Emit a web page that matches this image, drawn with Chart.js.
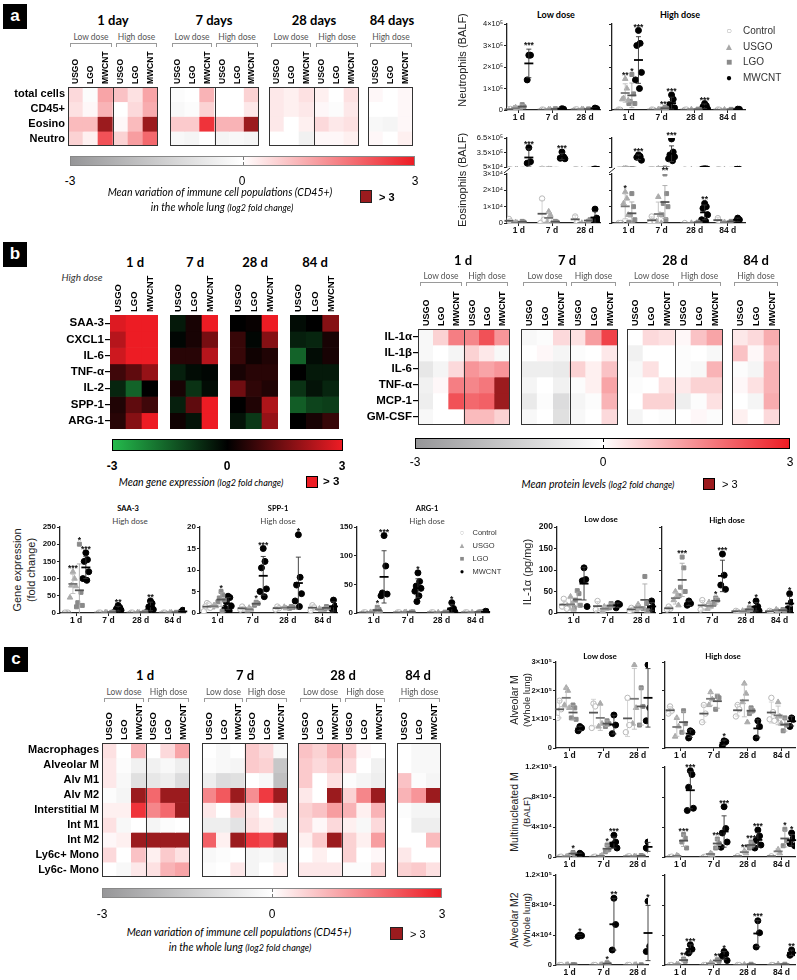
<!DOCTYPE html>
<html><head><meta charset="utf-8">
<script src="https://cdn.jsdelivr.net/npm/chart.js@4.4.1/dist/chart.umd.min.js"></script>
<style>
html,body{margin:0;padding:0;background:#fff;overflow:hidden}
#page{position:relative;width:797px;height:980px;overflow:hidden;font-family:"Liberation Sans",Arial,sans-serif;color:#000}
#page canvas{position:absolute}
.t{position:absolute;white-space:nowrap;line-height:1}
.d{position:absolute;box-sizing:border-box}
</style></head>
<body><div id="page"></div>
<script>
// ---------- heatmap data (log2 fold change, >3 stored as 3.5) ----------
const cols6 = ['USGO', 'LGO', 'MWCNT', 'USGO', 'LGO', 'MWCNT'];
const cols3 = ['USGO', 'LGO', 'MWCNT'];

const aRows = ['total cells', 'CD45+', 'Eosino', 'Neutro'];
const a1d  = [[0.5, -0.1, 1.2, 0.8, 0.4, 1.2], [0.4, 0.1, 1.0, 0, 0.5, 1.1], [0.9, 0.9, 3.5, 0.1, 0.9, 3.5], [0.6, 0.2, 2.3, 0.6, 1.3, 2.0]];
const a7d  = [[-0.1, 0, 1.0, 0, 0, 0.6], [-0.2, -0.1, 0.6, 0, 0, 0.3], [0.7, 0.7, 2.7, 1.0, 1.0, 3.5], [-0.2, -0.3, 0, -0.3, -0.2, -0.3]];
const a28d = [[0.3, 0.2, 0.4, 0.2, 0, 0.4], [0.3, 0.2, 0.3, 0.1, -0.1, 0.3], [0.3, 0, 0.2, 0.5, 0.3, 0.4], [0, 0, -0.4, 0.1, 0.1, 0.2]];
const a84d = [[0.1, 0, 0.1], [0, 0, 0.1], [-0.2, -0.3, 0.1], [0.1, 0, 0.2]];

const gRows = ['SAA-3', 'CXCL1', 'IL-6', 'TNF-α', 'IL-2', 'SPP-1', 'ARG-1'];
const g1d  = [[2.8, 3.5, 3.5], [2.3, 3.5, 3.5], [2.6, 3.5, 3.5], [0.8, 1.2, 1.9], [-0.6, -1.6, 0], [0.4, 1.2, 0.8], [0.5, 1.7, 3.5]];
const g7d  = [[-0.4, 0.3, 3.5], [-0.1, 0.3, 1.5], [0.5, 0.5, 2.3], [-0.5, -0.2, -0.1], [0.3, -0.8, -0.2], [-0.5, 1.2, 3.5], [0.2, -0.3, 3.5]];
const g28d = [[0, 0.1, 3.5], [0.7, -0.1, 1.7], [0.7, 0.2, 0.4], [0.3, 0.5, 0.5], [1.4, 0.6, 0.4], [0, 0.4, 2.2], [-0.3, -0.9, 1.9]];
const g84d = [[-0.2, 0, 1.7], [-0.5, -0.6, 0.3], [-1.6, -0.2, 0.3], [0, -0.4, -0.4], [-0.8, -0.3, -0.6], [-1.5, -1.1, -1.0], [0, 0.3, 0.7]];

const pRows = ['IL-1α', 'IL-1β', 'IL-6', 'TNF-α', 'MCP-1', 'GM-CSF'];
const p1d  = [[-0.2, 0.6, 1.7, 1.6, 2.3, 1.4], [-0.2, 0, -0.3, 0.6, 0.3, -0.2], [-0.7, -0.3, 0.5, 1.4, 1.2, 1.4], [-0.4, 0.1, 1.7, 1.6, 1.8, 3.5], [-0.5, 0, 2.3, 2.0, 2.1, 3.5], [-0.2, 0, 0, 0.9, 0.9, 0.6]];
const p7d  = [[-0.2, -0.1, 0.5, 0.4, 1.3, 2.5], [0, 0.1, -0.3, -0.1, 0, 0.3], [-0.5, -0.5, -0.6, 0.6, 0.2, 0.8], [-0.3, 0, -0.4, -0.1, 0.2, 1.2], [-0.6, -0.1, -1.0, -0.3, -0.1, 1.0], [-0.2, 0, -0.9, -0.2, 0, 0.5]];
const p28d = [[0, 0.5, 0.4, 0.1, 0.8, 1.2], [-0.4, 0, 0, -0.1, 0, -0.2], [-0.2, 0.4, 0, -0.1, -0.2, 1.0], [-0.1, 0, 0.4, 0.3, 0.6, 0.6], [0, 0.6, 0.6, -0.5, -0.1, 0.4], [-0.3, 0, -0.1, 0, 0.1, -0.1]];
const p84d = [[0.3, 0.5, 1.1], [0.8, 0.1, 0.8], [-0.1, -0.3, 1.0], [0.1, 0.4, 1.0], [0, -0.3, 1.1], [0.2, 0, 0.5]];

const cRows = ['Macrophages', 'Alveolar M', 'Alv M1', 'Alv M2', 'Interstitial M', 'Int M1', 'Int M2', 'Ly6c+ Mono', 'Ly6c- Mono'];
const c1d  = [[0.4, 0, 1.0, 0, 0.5, 1.2], [0.3, -0.1, -0.4, -0.4, -0.2, -0.5], [0.3, -0.2, -0.9, -0.7, -0.5, -1.0], [-0.1, -0.3, 3.5, 2.0, 3.5, 3.5], [0.2, 0.2, 2.7, 1.6, 2.0, 3.5], [0.4, -0.2, 0, -0.3, -0.1, 0], [0.1, 0.2, 3.5, 3.5, 3.5, 3.5], [0.5, 0, 0.8, 0.2, 0.7, 0.4], [0, -0.2, 0.3, 0.4, 1.0, 1.2]];
const c7d  = [[0, -0.2, 0, 0.7, 0.5, -0.2], [-0.1, -0.2, -0.3, 0.7, 0.6, -1.6], [-0.5, -1.0, -0.9, 0, -0.2, -1.8], [1.6, 2.2, 3.5, 1.5, 2.6, 3.5], [0.3, 0, 0.6, 0.3, 0, 0.4], [-0.5, -0.5, -0.8, 0.4, 0.2, -0.4], [2.1, 0.2, 3.5, 2.6, 2.4, 3.5], [-0.2, -0.1, 0, -0.3, -0.2, -0.4], [-0.1, 0, 0.3, -0.3, 0, 0.2]];
const c28d = [[0.8, 0.6, 1.0, 0.7, 0.1, 0], [0.7, 0.5, 0.7, 0.5, 0, -0.4], [0.7, 0, 0.4, -0.1, -0.3, -0.5], [0.3, 0, 3.5, 0.6, 1.6, 3.5], [0.6, 0.8, 1.3, 1.0, 0.2, 1.0], [0.5, 0.1, 0.5, 0.2, -0.2, 0.5], [0.2, 0.7, 3.5, 0.6, 0.2, 1.3], [0, 0.2, 0, 0.6, 0, 0.1], [0.3, 0.3, 0.3, -0.1, -0.1, 0.6]];
const c84d = [[0, -0.2, -0.2], [0, -0.2, -0.2], [0.8, -0.1, -0.3], [1.0, 1.4, 3.5], [-0.1, -0.3, -0.3], [0, -0.5, -0.5], [0, 0, 0.9], [0.3, 0, 0], [0.6, 0.7, 0.4]];

// ---------- dot plot data: per series, one list per time point ----------
const days3 = ['1 d', '7 d', '28 d'];
const days4 = ['1 d', '7 d', '28 d', '84 d'];

const neuLowCtrl = [[3e3, 5e3, 2e3], [2e3, 1e3], [2e3, 3e3]];
const neuLowUsgo = [[1.2e4, 5e3, 8e3], [3e3, 2e3], [4e3, 2e3]];
const neuLowLgo  = [[2.5e4, 1.5e4, 8e3], [6e3, 3e3], [5e3, 3e3]];
const neuLowMw   = [[2.55e5, 2.55e5, 1.4e5], [6e3, 4e3], [9e3, 6e3]];
const neuLowStars = [['', '', '', '***'], ['', '', '', ''], ['', '', '', '']];
const neuHighCtrl = [[2e3, 1e3], [2e3, 1e3], [1e3, 2e3], [2e3, 1e3]];
const neuHighUsgo = [[1.45e5, 1.0e5, 0.55e5, 0.45e5, 0.5e5], [3e3, 2e3], [3e3], [2e3]];
const neuHighLgo  = [[1.65e5, 0.75e5, 0.4e5, 0.3e5, 0.3e5], [1.2e4, 8e3, 5e3], [4e3, 2e3], [3e3]];
const neuHighMw   = [[3.7e5, 3.1e5, 3.0e5, 1.75e5, 1.4e5, 1.0e5], [0.7e5, 0.5e5, 0.25e5, 0.1e5, 0.05e5], [0.3e5, 0.2e5, 0.15e5, 0.05e5], [4e3, 3e3]];
const neuHighStars = [['', '**', '*', '***'], ['', '', '***', '***'], ['', '', '', '***'], ['', '', '', '']];

const eosLowCtrl = [[2.5e3, 1e3, 500], [1.5e4, 2e3, 0], [4e3, 500]];
const eosLowUsgo = [[500, 0], [7e3, 5e3, 500, 0], [0]];
const eosLowLgo  = [[1e3, 500], [1e3, 500], [1e3, 2e3]];
const eosLowMw   = [[4.5e5, 1.6e5, 1.3e5], [3.6e5, 2.6e5, 2.3e5, 2.2e5], [8.5e3, 3e3, 1.5e3, 500]];
const eosLowStars = [['', '', '', '***'], ['', '', '', '***'], ['', '', '', '']];
const eosHighCtrl = [[0, 0], [4e3, 1e3, 0], [0], [3e3, 500]];
const eosHighUsgo = [[1.9e4, 1.5e4, 1.2e4, 5e3, 0], [1.6e4, 5e3, 1e3, 0], [0], [500]];
const eosHighLgo  = [[1.8e4, 1e4, 5e3, 2e3, 500, 0], [3e4, 1.8e4, 1.2e4, 1e4, 5e3, 2e3], [500], [1e3]];
const eosHighMw   = [[3.0e5, 2.7e5, 2.5e5, 1.9e5], [6.3e5, 3.6e5, 3.0e5, 2.6e5, 2.2e5, 1.8e5], [1.2e4, 1e4, 9e3, 5e3, 2e3, 1e3], [3e3, 2e3, 1e3]];
const eosHighStars = [['', '*', '', '***'], ['', '', '**', '***'], ['', '', '', '**'], ['', '', '', '']];

const saaCtrl = [[1, 1, 1], [1, 1], [1, 1], [1, 1]];
const saaUsgo = [[120, 100, 80, 78, 45], [1.5, 1], [1.5, 1], [1, 1.2]];
const saaLgo  = [[200, 60, 30, 22, 18], [2, 3], [2, 2.5], [2, 1.5]];
const saaMw   = [[175, 155, 150, 120, 100, 95], [22, 16, 12, 8, 5], [35, 28, 18, 10, 5], [8, 5, 3, 2]];
const saaStars = [['', '***', '*', '***'], ['', '', '', '**'], ['', '', '', '**'], ['', '', '', '']];

const sppCtrl = [[2.3, 2.0, 1.5, 1.2, 0.4], [1.5, 1.0, 0.8], [1.5, 1.1, 0.8], [1.8, 1.3, 0.6]];
const sppUsgo = [[1.8, 1.6, 1.3], [1.2, 0.8, 0.6], [1.4, 1.1], [1.0, 0.7]];
const sppLgo  = [[5, 4.2, 3.5, 3, 2.6, 0.4], [2.5, 2.2, 1.8], [1.5, 1.3, 1.1], [1.5, 1.2, 0.9]];
const sppMw   = [[3.9, 3.6, 2.6, 1.6, 1.1, 0.5], [15, 12, 10.5, 5.6, 5, 3.8], [18.2, 8.3, 6.5, 4.5, 2.8, 1.5], [3, 1.6, 1, 0.5]];
const sppStars = [['', '', '*', ''], ['', '', '*', '***'], ['', '', '', '*'], ['', '', '', '']];

const argCtrl = [[1, 1], [1, 1], [1, 1], [1, 1]];
const argUsgo = [[1.5, 1], [1, 1.5], [1], [1]];
const argLgo  = [[10, 6, 3, 1], [1.5, 2], [1.5, 1], [1.5, 2]];
const argMw   = [[135, 82, 35, 33, 30], [70, 55, 47, 43, 38, 30, 20], [18, 8, 4, 2], [3, 2, 1]];
const argStars = [['', '', '*', '***'], ['', '', '', '*'], ['', '', '', '*'], ['', '', '', '']];

const ilLowCtrl = [[33, 20, 15, 10], [28, 12, 8], [12, 8, 5]];
const ilLowUsgo = [[38, 22, 12, 8], [15, 10, 5], [20, 12, 8]];
const ilLowLgo  = [[52, 45, 30, 18, 12], [22, 18, 12], [85, 22, 10, 5]];
const ilLowMw   = [[105, 78, 75, 15], [22, 20, 12], [28, 15, 10, 8]];
const ilLowStars = [['', '', '', ''], ['', '', '', ''], ['', '', '', '']];
const ilHighCtrl = [[15, 10, 8], [30, 15, 8], [5, 3], [5, 3]];
const ilHighUsgo = [[50, 40, 30, 18], [25, 15, 10], [5, 3], [8, 5]];
const ilHighLgo  = [[130, 105, 60, 50, 40], [35, 30, 20], [12, 8, 5], [8, 5]];
const ilHighMw   = [[28, 22, 18], [137, 88, 65, 55], [28, 15, 10, 5], [45, 25, 10, 8]];
const ilHighStars = [['', '', '***', ''], ['', '', '*', '***'], ['', '', '*', '*'], ['', '', '', '*']];

const alvLowCtrl = [[1.65e5, 1.35e5, 1.05e5], [1.55e5, 1.45e5, 0.7e5], [1.75e5, 0.8e5, 0.55e5]];
const alvLowUsgo = [[2.1e5, 2.0e5, 1.5e5, 1.4e5], [1.55e5, 0.85e5, 0.75e5], [2.9e5, 1.4e5, 0.85e5]];
const alvLowLgo  = [[1.5e5, 1.4e5, 1.05e5, 1.0e5], [0.95e5, 0.85e5, 0.75e5], [2.1e5, 1.45e5, 0.8e5]];
const alvLowMw   = [[0.75e5, 0.7e5, 0.6e5], [1.15e5, 0.8e5, 0.5e5], [2.9e5, 1.4e5, 0.95e5]];
const alvLowStars = [['', '', '', ''], ['', '', '', ''], ['', '', '', '']];
const alvHighCtrl = [[1.45e5, 1.3e5, 1.2e5], [1.5e5, 1.2e5, 0.9e5], [1.5e5, 1.35e5, 1.1e5], [1.75e5, 1.25e5, 1.0e5, 0.95e5]];
const alvHighUsgo = [[1.05e5, 0.75e5, 0.4e5], [1.95e5, 1.7e5, 1.5e5], [2.25e5, 1.9e5, 1.6e5, 0.9e5], [1.6e5, 1.1e5, 1.0e5, 0.85e5]];
const alvHighLgo  = [[1.3e5, 0.85e5, 0.55e5], [1.8e5, 1.75e5, 1.35e5], [1.4e5, 1.3e5, 1.2e5], [1.05e5, 0.8e5, 0.6e5]];
const alvHighMw   = [[0.6e5, 0.55e5, 0.35e5], [0.25e5, 0.22e5, 0.08e5], [0.95e5, 0.75e5, 0.35e5], [1.05e5, 1.0e5, 0.75e5]];
const alvHighStars = [['', '', '', ''], ['', '', '', '*'], ['', '', '', ''], ['', '', '', '']];

const mnLowCtrl = [[0, 500], [0, 500], [500, 1e3]];
const mnLowUsgo = [[500, 1e3], [1e3, 2e3], [1e3, 500]];
const mnLowLgo  = [[6e3, 3e3], [1.6e4, 1e4, 7e3], [2e3, 1e3]];
const mnLowMw   = [[5e3, 3e3, 500], [2.9e4, 2e4, 1.6e4, 1.2e4], [2e4, 1.6e4, 1.2e4, 6e3]];
const mnLowStars = [['', '', '*', ''], ['', '', '*', '***'], ['', '', '', '']];
const mnHighCtrl = [[0, 500], [0, 500], [1e3], [1e3]];
const mnHighUsgo = [[2e3, 1e3], [5e3, 3e3], [8e3, 5e3], [1e4, 5e3]];
const mnHighLgo  = [[3e4, 2.5e4, 2e4, 1.2e4], [2.4e4, 1.8e4, 1.2e4], [2e4, 1.6e4, 1.2e4], [3.7e4, 2.2e4, 1.5e4]];
const mnHighMw   = [[1.15e5, 1.1e5, 9.3e4, 6.5e4, 6.2e4], [6.7e4, 3.8e4, 3.2e4, 2e4, 1.3e4], [3.6e4, 2.8e4, 2.2e4, 1.6e4, 1.2e4], [3.2e4, 2.5e4, 1.8e4, 1.5e4]];
const mnHighStars = [['', '', '***', '***'], ['', '', '***', '***'], ['', '**', '***', '***'], ['', '', '*', '*']];

const m2LowCtrl = [[0, 0], [0, 0], [0, 0]];
const m2LowUsgo = [[0, 300], [0, 500], [0, 300]];
const m2LowLgo  = [[500, 300], [3e3, 1e3], [300]];
const m2LowMw   = [[4e4, 3.9e4, 3.8e4], [8.9e4, 5.4e4, 2e4], [8.5e4, 2.5e4, 1.8e4]];
const m2LowStars = [['', '', '', '*'], ['', '', '*', '**'], ['', '', '', '*']];
const m2HighCtrl = [[0, 0], [0, 0], [0, 0], [0, 0]];
const m2HighUsgo = [[1e3, 500], [3e3, 1e3], [500], [1e3]];
const m2HighLgo  = [[8e3, 5e3], [7e3, 5e3], [1e3], [1e3]];
const m2HighMw   = [[2.7e4, 2.1e4, 1.6e4], [1.8e4, 1.5e4, 1.2e4, 6e3], [5.9e4, 4.3e4, 2.4e4], [2e4, 1.6e4, 1.3e4]];
const m2HighStars = [['', '', '**', '***'], ['', '', '**', '*'], ['', '', '', '***'], ['', '', '', '**']];

// ---------- helpers ----------
Chart.defaults.font.family = '"Liberation Sans", Arial, sans-serif';
Chart.defaults.animation = false;
const page = document.getElementById('page');
const P = 10;

function mk(x, y, w, h) {
  const c = document.createElement('canvas');
  c.width = w; c.height = h;
  c.style.left = x + 'px'; c.style.top = y + 'px';
  c.style.width = w + 'px'; c.style.height = h + 'px';
  page.appendChild(c);
  return c;
}
function T(html, x, y, css, anchor) {
  const d = document.createElement('div');
  d.className = 't';
  d.innerHTML = html;
  const tr = { c: 'translate(-50%,-50%)', l: 'translate(0,-50%)', r: 'translate(-100%,-50%)', v: 'translate(-50%,-50%) rotate(-90deg)' }[anchor || 'c'];
  d.style.cssText = `left:${x}px;top:${y}px;transform:${tr};${css || ''}`;
  page.appendChild(d);
}
function D(x, y, w, h, css) {
  const d = document.createElement('div');
  d.className = 'd';
  d.style.cssText = `left:${x}px;top:${y}px;width:${w}px;height:${h}px;${css || ''}`;
  page.appendChild(d);
}

const WHITE = [255, 255, 255], GREY = [150, 150, 152], RED = [237, 28, 36], DARK = [155, 27, 30], BLACK = [0, 0, 0], GREEN = [36, 186, 76];
function mix(a, b, t) { return 'rgb(' + a.map((v, i) => Math.round(v + (b[i] - v) * t)).join(',') + ')'; }
function greyRed(v) {
  if (v > 3) return mix(DARK, DARK, 0);
  return v >= 0 ? mix(WHITE, RED, v / 3) : mix(WHITE, GREY, Math.min(-v, 3) / 3);
}
function greenRed(v) {
  return v >= 0 ? mix(BLACK, RED, Math.min(v, 3) / 3) : mix(BLACK, GREEN, Math.min(-v, 3) / 3);
}

const SUP = { '0': '⁰', '1': '¹', '2': '²', '3': '³', '4': '⁴', '5': '⁵', '6': '⁶', '7': '⁷', '8': '⁸', '9': '⁹' };
function sci(v) {
  if (v === 0) return '0';
  const e = Math.floor(Math.log10(v) + 1e-9);
  const m = +(v / 10 ** e).toFixed(1);
  return m + '×10' + String(e).split('').map(c => SUP[c]).join('');
}

// ---------- heatmap block ----------
function heat(o) {
  const yw = o.yw || 0, xh = o.xh;
  const cv = mk(o.x - yw - P, o.y - xh, o.w + yw + 2 * P, o.h + xh + P);
  const frame = {
    id: 'frame',
    afterDraw(chart) {
      const { ctx, chartArea: a, scales: { x } } = chart;
      ctx.save();
      // column names, rotated, standing on top of the block
      ctx.fillStyle = '#000';
      ctx.font = `bold ${o.colFont}px "Liberation Sans", Arial`;
      ctx.textAlign = 'left'; ctx.textBaseline = 'middle';
      o.cols.forEach((c, i) => {
        ctx.save();
        ctx.translate(x.getPixelForValue(i) + 0.5, a.top - 3);
        ctx.rotate(-Math.PI / 2);
        ctx.fillText(c, 0, 0);
        ctx.restore();
      });
      if (o.frame) {
        ctx.strokeStyle = '#333'; ctx.lineWidth = 1;
        ctx.strokeRect(a.left + 0.5, a.top + 0.5, a.width - 1, a.height - 1);
        if (o.cols.length === 6) {
          const sx = Math.round((x.getPixelForValue(2) + x.getPixelForValue(3)) / 2) + 0.5;
          ctx.beginPath(); ctx.moveTo(sx, a.top); ctx.lineTo(sx, a.bottom); ctx.stroke();
        }
      }
      ctx.restore();
    }
  };
  new Chart(cv, {
    type: 'bar',
    data: {
      labels: o.cols,
      datasets: o.rows.map((r, i) => ({
        label: r,
        data: o.cols.map(() => [i, i + 1]),
        backgroundColor: o.vals[i].map(o.color),
        grouped: false, barPercentage: 1, categoryPercentage: 1, borderWidth: 0
      }))
    },
    options: {
      responsive: false, events: [],
      layout: { padding: { left: P, right: P, top: xh, bottom: P } },
      plugins: { legend: { display: false }, tooltip: { enabled: false } },
      scales: {
        x: { display: false },
        y: {
          min: 0, max: o.rows.length, reverse: true, display: yw > 0,
          afterBuildTicks: s => { s.ticks = o.rows.map((r, i) => ({ value: i + 0.5 })); },
          grid: { display: !!o.rowTicks, drawOnChartArea: false, drawTicks: !!o.rowTicks, tickLength: 5, color: '#000', lineWidth: 1.2 },
          border: { display: false },
          ticks: { callback: (v, i) => o.rows[i], color: '#000', padding: o.rowTicks ? 1 : 3, font: { size: o.rowFont, weight: 'bold' } },
          afterFit: s => { s.width = yw; }
        }
      }
    },
    plugins: [frame]
  });
}

// ---------- dot plot with mean and SD ----------
const SER = [
  { style: 'circle', bg: '#ffffff', bd: '#b8b8b8', r: 2.7, mean: '#555', sd: '#cfcfcf' },
  { style: 'triangle', bg: '#ababab', bd: '#ababab', r: 3.2, mean: '#777', sd: '#bdbdbd' },
  { style: 'rect', bg: '#8a8a8a', bd: '#8a8a8a', r: 2.8, mean: '#555', sd: '#a8a8a8' },
  { style: 'circle', bg: '#000000', bd: '#000000', r: 3, mean: '#000', sd: '#333' }
];
const OFF = [-0.3, -0.1, 0.1, 0.3];
const JIT = [0, 0.05, -0.05, 0.09, -0.09, 0.03, -0.03];

function dotPlot(p) {
  const yw = 40, pt = p.pt || P, xh = p.xAxis === false ? 0 : 14;
  const cv = mk(p.x0 - yw - P, p.yTop - pt, p.x1 - p.x0 + yw + 2 * P, p.yBot - p.yTop + pt + xh + P);
  const stats = {
    id: 'stats',
    afterDatasetsDraw(chart) {
      const { ctx, chartArea: a, scales: { x, y } } = chart;
      ctx.save();
      ctx.beginPath(); ctx.rect(a.left - 12, a.top - pt, a.width + 24, a.height + pt); ctx.clip();
      p.series.forEach((ser, s) => ser.forEach((vals, g) => {
        const m = vals.reduce((u, v) => u + v, 0) / vals.length;
        const sd = vals.length > 1 ? Math.sqrt(vals.reduce((u, v) => u + (v - m) ** 2, 0) / (vals.length - 1)) : 0;
        const px = x.getPixelForValue(g + OFF[s]);
        if (sd > 0) {
          const y1 = y.getPixelForValue(m + sd), y2 = y.getPixelForValue(m - sd);
          ctx.strokeStyle = SER[s].sd; ctx.lineWidth = 0.9;
          ctx.beginPath();
          ctx.moveTo(px, y1); ctx.lineTo(px, y2);
          ctx.moveTo(px - 2.5, y1); ctx.lineTo(px + 2.5, y1);
          ctx.moveTo(px - 2.5, y2); ctx.lineTo(px + 2.5, y2);
          ctx.stroke();
        }
        const ym = y.getPixelForValue(m);
        ctx.strokeStyle = SER[s].mean; ctx.lineWidth = 1.8;
        ctx.beginPath(); ctx.moveTo(px - 4.5, ym); ctx.lineTo(px + 4.5, ym); ctx.stroke();
        const star = p.stars[g][s];
        const top = Math.max(...vals);
        if (star && top >= p.yMin && top <= p.yMax * 1.05) {
          const sy = y.getPixelForValue(Math.min(Math.max(top, m + sd), p.yMax * 1.02)) - 3;
          ctx.fillStyle = '#111'; ctx.font = 'bold 8.5px "Liberation Sans", Arial';
          ctx.textAlign = 'center'; ctx.textBaseline = 'bottom';
          ctx.fillText(star, px, sy + 4);
        }
      }));
      ctx.restore();
      if (p.brk) {
        ctx.save(); ctx.strokeStyle = '#222'; ctx.lineWidth = 1;
        ctx.beginPath();
        ctx.moveTo(a.left - 3, a.top - 1); ctx.lineTo(a.left + 3, a.top - 6);
        ctx.stroke(); ctx.restore();
      }
    }
  };
  new Chart(cv, {
    type: 'scatter',
    data: {
      datasets: p.series.map((ser, s) => ({
        data: ser.flatMap((vals, g) => vals.map((v, k) => ({ x: g + OFF[s] + JIT[k % JIT.length], y: v }))),
        pointStyle: SER[s].style, backgroundColor: SER[s].bg, borderColor: SER[s].bd,
        pointRadius: SER[s].r, borderWidth: 1
      }))
    },
    options: {
      responsive: false, events: [],
      layout: { padding: { left: P, right: P, top: pt, bottom: P } },
      plugins: { legend: { display: false }, tooltip: { enabled: false } },
      scales: {
        x: {
          type: 'linear', min: p.xr[0], max: p.xr[1], display: p.xAxis !== false,
          afterBuildTicks: s => { s.ticks = p.groups.map((g, i) => ({ value: i })); },
          grid: { drawOnChartArea: false, drawTicks: true, tickLength: 3, color: '#222', lineWidth: 1 },
          border: { color: '#222', width: 1.3 },
          ticks: { callback: (v, i) => p.groups[i], autoSkip: false, maxRotation: 0, padding: 0, color: '#111', font: { size: 8.5, weight: 'bold' } },
          afterFit: s => { s.height = xh; }
        },
        y: {
          min: p.yMin, max: p.yMax,
          afterBuildTicks: s => { s.ticks = p.yTicks.map(v => ({ value: v })); },
          grid: { drawOnChartArea: false, drawTicks: true, tickLength: 3, color: '#222', lineWidth: 1 },
          border: { color: '#222', width: 1.3 },
          ticks: { display: p.yLabels !== false, callback: p.fmt || (v => v), padding: 1, color: '#111', font: p.tickFont },
          afterFit: s => { s.width = yw; }
        }
      }
    },
    plugins: [stats]
  });
}

// ---------- panel letters ----------
function letter(x, y, ch) {
  D(x, y, 24, 25, 'background:#000');
  T(ch, x + 12, y + 12, 'color:#fff;font:bold 17px "Liberation Sans",Arial');
}
letter(3, 4, 'a'); letter(3, 242, 'b'); letter(4, 647, 'c');

const CAL = 'font-family:Lato,"Open Sans",sans-serif;';
function title(s, x, y) { T(s, x, y, CAL + 'font-weight:bold;font-size:13px'); }
function bracket(x1, x2, y, s) {
  T(s, (x1 + x2) / 2, y - 6, CAL + 'font-size:8.5px;color:#555');
  D(x1, y, x2 - x1, 4, 'border:1px solid #9a9a9a;border-bottom:none');
}
function colorbar(x1, x2, y, h, grad, bd, dash) {
  D(x1, y, x2 - x1, h, `background:${grad};border:${bd}`);
  D((x1 + x2) / 2, y + 1, 1, h - 2, `border-left:1px dashed ${dash}`);
}
const GR_GRAD = 'linear-gradient(to right, rgb(150,150,152), #fff 50%, rgb(237,28,36))';
const GN_GRAD = 'linear-gradient(to right, rgb(36,186,76), #000 50%, rgb(237,28,36))';

// ---------- panel a ----------
title('1 day', 113, 20); title('7 days', 214, 20); title('28 days', 314, 20); title('84 days', 392, 20);
bracket(70, 112, 43, 'Low dose'); bracket(116, 157, 43, 'High dose');
bracket(172, 212, 43, 'Low dose'); bracket(216, 258, 43, 'High dose');
bracket(271, 311, 43, 'Low dose'); bracket(316, 358, 43, 'High dose');
bracket(370, 412, 43, 'High dose');
heat({ x: 68, y: 87, w: 90, h: 59, cols: cols6, rows: aRows, vals: a1d, color: greyRed, yw: 56, rowFont: 11, colFont: 8.5, xh: 40, frame: true });
heat({ x: 170, y: 87, w: 89, h: 59, cols: cols6, rows: aRows, vals: a7d, color: greyRed, colFont: 8.5, xh: 40, frame: true });
heat({ x: 269, y: 87, w: 90, h: 59, cols: cols6, rows: aRows, vals: a28d, color: greyRed, colFont: 8.5, xh: 40, frame: true });
heat({ x: 368, y: 87, w: 45, h: 59, cols: cols3, rows: aRows, vals: a84d, color: greyRed, colFont: 8.5, xh: 40, frame: true });
colorbar(70, 415, 156, 10, GR_GRAD, '1px solid #888', '#777');
T('-3', 70, 181, 'font-size:12px'); T('0', 242, 181, 'font-size:12px'); T('3', 415, 181, 'font-size:12px');
T('Mean variation of immune cell populations (CD45+)', 220, 192, CAL + 'font-style:italic;font-size:10.5px');
T('in the whole lung <span style="font-size:9px">(log2 fold change)</span>', 222, 207, CAL + 'font-style:italic;font-size:10.5px');
D(360, 190, 12, 13, 'background:rgb(155,27,30);border:1px solid #222');
T('&gt; 3', 379, 197, 'font-weight:bold;font-size:11px', 'l');

T('Low dose', 556, 14, CAL + 'font-weight:bold;font-size:9px');
T('High dose', 680, 14, CAL + 'font-weight:bold;font-size:9px');
T('Neutrophils (BALF)', 462, 60, 'font-size:11px;color:#222', 'v');
T('Eosinophils (BALF)', 462, 180, 'font-size:11px;color:#222', 'v');
const aTick = { size: 7.5 };
dotPlot({ x0: 507, x1: 600, yTop: 24, yBot: 110, xr: [-0.36, 2.45], groups: days3, series: [neuLowCtrl, neuLowUsgo, neuLowLgo, neuLowMw], stars: neuLowStars, yMin: 0, yMax: 4e5, yTicks: [0, 1e5, 2e5, 3e5, 4e5], fmt: sci, tickFont: aTick });
dotPlot({ x0: 612, x1: 745, yTop: 24, yBot: 110, xr: [-0.5, 3.52], groups: days4, series: [neuHighCtrl, neuHighUsgo, neuHighLgo, neuHighMw], stars: neuHighStars, yMin: 0, yMax: 4e5, yTicks: [0, 1e5, 2e5, 3e5, 4e5], yLabels: false, tickFont: aTick });
dotPlot({ x0: 507, x1: 600, yTop: 138, yBot: 167, pt: 14, xAxis: false, xr: [-0.36, 2.45], groups: days3, series: [eosLowCtrl, eosLowUsgo, eosLowLgo, eosLowMw], stars: eosLowStars, yMin: 5e4, yMax: 6.5e5, yTicks: [5e4, 3.5e5, 6.5e5], fmt: sci, tickFont: aTick });
dotPlot({ x0: 507, x1: 600, yTop: 174, yBot: 223, brk: true, xr: [-0.36, 2.45], groups: days3, series: [eosLowCtrl, eosLowUsgo, eosLowLgo, eosLowMw], stars: eosLowStars, yMin: 0, yMax: 3e4, yTicks: [0, 1e4, 2e4, 3e4], fmt: sci, tickFont: aTick });
dotPlot({ x0: 612, x1: 745, yTop: 138, yBot: 167, pt: 14, xAxis: false, xr: [-0.5, 3.52], groups: days4, series: [eosHighCtrl, eosHighUsgo, eosHighLgo, eosHighMw], stars: eosHighStars, yMin: 5e4, yMax: 6.5e5, yTicks: [5e4, 3.5e5, 6.5e5], yLabels: false, tickFont: aTick });
dotPlot({ x0: 612, x1: 745, yTop: 174, yBot: 223, brk: true, xr: [-0.5, 3.52], groups: days4, series: [eosHighCtrl, eosHighUsgo, eosHighLgo, eosHighMw], stars: eosHighStars, yMin: 0, yMax: 3e4, yTicks: [0, 1e4, 2e4, 3e4], yLabels: false, tickFont: aTick });

function legend(x, y0, dy, size) {
  const items = [['○', '#b0b0b0', 'Control'], ['▲', '#a8a8a8', 'USGO'], ['■', '#8a8a8a', 'LGO'], ['●', '#000', 'MWCNT']];
  items.forEach((it, i) => {
    T(it[0], x, y0 + i * dy, `font-size:${size}px;color:${it[1]}`);
    T(it[2], x + size * 1.4, y0 + i * dy, `font-size:${size}px;color:#333`, 'l');
  });
}
legend(729, 31, 15.5, 10);

// ---------- panel b ----------
title('1 d', 135, 262); title('7 d', 195, 262); title('28 d', 255, 262); title('84 d', 315, 262);
T('High dose', 82, 277, CAL + 'font-style:italic;font-size:10px;color:#333');
heat({ x: 110, y: 315, w: 48, h: 114, cols: cols3, rows: gRows, vals: g1d, color: greenRed, yw: 62, rowTicks: true, rowFont: 11.5, colFont: 9.5, xh: 42 });
heat({ x: 170, y: 315, w: 48, h: 114, cols: cols3, rows: gRows, vals: g7d, color: greenRed, colFont: 9.5, xh: 42 });
heat({ x: 230, y: 315, w: 48, h: 114, cols: cols3, rows: gRows, vals: g28d, color: greenRed, colFont: 9.5, xh: 42 });
heat({ x: 290, y: 315, w: 49, h: 114, cols: cols3, rows: gRows, vals: g84d, color: greenRed, colFont: 9.5, xh: 42 });
colorbar(112, 343, 439, 12, GN_GRAD, '1.5px solid #000', 'transparent');
T('-3', 112, 466, 'font-weight:bold;font-size:12px'); T('0', 227, 466, 'font-weight:bold;font-size:12px'); T('3', 342, 466, 'font-weight:bold;font-size:12px');
T('Mean gene expression <span style="font-size:9px">(log2 fold change)</span>', 201, 482, CAL + 'font-style:italic;font-size:10.5px');
D(306, 476, 12, 12, 'background:rgb(237,28,36);border:1px solid #000');
T('&gt; 3', 323, 482, 'font-weight:bold;font-size:11.5px', 'l');

title('1 d', 463, 260); title('7 d', 567, 260); title('28 d', 675, 260); title('84 d', 756, 260);
bracket(420, 462, 282, 'Low dose'); bracket(466, 508, 282, 'High dose');
bracket(523, 567, 282, 'Low dose'); bracket(571, 616, 282, 'High dose');
bracket(629, 674, 282, 'Low dose'); bracket(678, 721, 282, 'High dose');
bracket(734, 778, 282, 'High dose');
heat({ x: 418, y: 329, w: 92, h: 96, cols: cols6, rows: pRows, vals: p1d, color: greyRed, yw: 70, rowTicks: true, rowFont: 11.5, colFont: 9, xh: 42, frame: true });
heat({ x: 521, y: 329, w: 97, h: 96, cols: cols6, rows: pRows, vals: p7d, color: greyRed, colFont: 9, xh: 42, frame: true });
heat({ x: 627, y: 329, w: 96, h: 96, cols: cols6, rows: pRows, vals: p28d, color: greyRed, colFont: 9, xh: 42, frame: true });
heat({ x: 732, y: 329, w: 48, h: 96, cols: cols3, rows: pRows, vals: p84d, color: greyRed, colFont: 9, xh: 42, frame: true });
colorbar(415, 790, 438, 11, GR_GRAD, '1.5px solid #000', '#000');
T('-3', 415, 462, 'font-size:12px'); T('0', 603, 462, 'font-size:12px'); T('3', 790, 462, 'font-size:12px');
T('Mean protein levels <span style="font-size:9px">(log2 fold change)</span>', 598, 484, CAL + 'font-style:italic;font-size:10.5px');
D(703, 478, 12, 12, 'background:rgb(155,27,30);border:1px solid #000');
T('&gt; 3', 722, 484, 'font-size:11px', 'l');

T('SAA-3', 128, 509, CAL + 'font-weight:bold;font-size:7.5px'); T('High dose', 130, 521, CAL + 'font-size:8px;color:#444');
T('SPP-1', 278, 509, CAL + 'font-weight:bold;font-size:7.5px'); T('High dose', 278, 521, CAL + 'font-size:8px;color:#444');
T('ARG-1', 427, 509, CAL + 'font-weight:bold;font-size:7.5px'); T('High dose', 427, 521, CAL + 'font-size:8px;color:#444');
T('Gene expression', 17, 570, 'font-size:11px;color:#222', 'v');
T('(fold change)', 31, 570, 'font-size:11px;color:#222', 'v');
dotPlot({ x0: 60, x1: 185, yTop: 527, yBot: 613, xr: [-0.5, 3.37], groups: days4, series: [saaCtrl, saaUsgo, saaLgo, saaMw], stars: saaStars, yMin: 0, yMax: 250, yTicks: [0, 50, 100, 150, 200, 250], tickFont: { size: 8, weight: 'bold' } });
dotPlot({ x0: 200, x1: 337, yTop: 527, yBot: 613, xr: [-0.5, 3.4], groups: days4, series: [sppCtrl, sppUsgo, sppLgo, sppMw], stars: sppStars, yMin: 0, yMax: 20, yTicks: [0, 5, 10, 15, 20], tickFont: { size: 8, weight: 'bold' } });
dotPlot({ x0: 357, x1: 489, yTop: 527, yBot: 613, xr: [-0.5, 3.4], groups: days4, series: [argCtrl, argUsgo, argLgo, argMw], stars: argStars, yMin: 0, yMax: 150, yTicks: [0, 50, 100, 150], tickFont: { size: 8, weight: 'bold' } });
legend(462, 533, 13, 7.5);

T('Low dose', 601, 519, CAL + 'font-weight:bold;font-size:8px');
T('High dose', 727, 520, CAL + 'font-weight:bold;font-size:8px');
T('IL-1α (pg/mg)', 527, 572, 'font-size:11px;color:#222', 'v');
dotPlot({ x0: 557, x1: 655, yTop: 527, yBot: 613, xr: [-0.5, 2.4], groups: days3, series: [ilLowCtrl, ilLowUsgo, ilLowLgo, ilLowMw], stars: ilLowStars, yMin: 0, yMax: 200, yTicks: [0, 50, 100, 150, 200], tickFont: { size: 8.5, weight: 'bold' } });
dotPlot({ x0: 662, x1: 793, yTop: 527, yBot: 613, xr: [-0.5, 3.4], groups: days4, series: [ilHighCtrl, ilHighUsgo, ilHighLgo, ilHighMw], stars: ilHighStars, yMin: 0, yMax: 200, yTicks: [0, 50, 100, 150, 200], yLabels: false, tickFont: { size: 8.5 } });

// ---------- panel c ----------
title('1 d', 145, 675); title('7 d', 245, 675); title('28 d', 343, 675); title('84 d', 418, 675);
bracket(104, 144, 698, 'Low dose'); bracket(148, 189, 698, 'High dose');
bracket(204, 243, 698, 'Low dose'); bracket(246, 287, 698, 'High dose');
bracket(300, 341, 698, 'Low dose'); bracket(345, 385, 698, 'High dose');
bracket(399, 440, 698, 'High dose');
heat({ x: 102, y: 743, w: 88, h: 134, cols: cols6, rows: cRows, vals: c1d, color: greyRed, yw: 80, rowFont: 11, colFont: 9.5, xh: 44, frame: true });
heat({ x: 202, y: 743, w: 86, h: 134, cols: cols6, rows: cRows, vals: c7d, color: greyRed, colFont: 9.5, xh: 44, frame: true });
heat({ x: 298, y: 743, w: 88, h: 134, cols: cols6, rows: cRows, vals: c28d, color: greyRed, colFont: 9.5, xh: 44, frame: true });
heat({ x: 397, y: 743, w: 44, h: 134, cols: cols3, rows: cRows, vals: c84d, color: greyRed, colFont: 9.5, xh: 44, frame: true });
colorbar(102, 442, 888, 10, GR_GRAD, '1px solid #888', '#777');
T('-3', 102, 914, 'font-size:12px'); T('0', 272, 914, 'font-size:12px'); T('3', 442, 914, 'font-size:12px');
T('Mean variation of immune cell populations (CD45+)', 239, 932, CAL + 'font-style:italic;font-size:10.5px');
T('in the whole lung <span style="font-size:9px">(log2 fold change)</span>', 240, 947, CAL + 'font-style:italic;font-size:10.5px');
D(390, 927, 13, 13, 'background:rgb(155,27,30);border:1px solid #222');
T('&gt; 3', 410, 934, 'font-size:11px', 'l');

T('Low dose', 600, 656, CAL + 'font-weight:bold;font-size:8px');
T('High dose', 723, 656, CAL + 'font-weight:bold;font-size:8px');
T('Alveolar M', 514, 700, 'font-size:10.5px;color:#222', 'v'); T('(Whole lung)', 527, 700, 'font-size:9.5px;color:#222', 'v');
T('Multinucleated M', 514, 812, 'font-size:10.5px;color:#222', 'v'); T('(BALF)', 527, 812, 'font-size:9.5px;color:#222', 'v');
T('Alveolar M2', 514, 920, 'font-size:10.5px;color:#222', 'v'); T('(Whole lung)', 527, 920, 'font-size:9.5px;color:#222', 'v');
const cTick = { size: 7.5, weight: 'bold' };
dotPlot({ x0: 556, x1: 648, yTop: 662, yBot: 748, xr: [-0.4, 2.3], groups: days3, series: [alvLowCtrl, alvLowUsgo, alvLowLgo, alvLowMw], stars: alvLowStars, yMin: 0, yMax: 3e5, yTicks: [0, 1e5, 2e5, 3e5], fmt: sci, tickFont: cTick });
dotPlot({ x0: 665, x1: 795, yTop: 662, yBot: 748, xr: [-0.45, 3.4], groups: days4, series: [alvHighCtrl, alvHighUsgo, alvHighLgo, alvHighMw], stars: alvHighStars, yMin: 0, yMax: 3e5, yTicks: [0, 1e5, 2e5, 3e5], yLabels: false, tickFont: cTick });
dotPlot({ x0: 556, x1: 648, yTop: 767, yBot: 857, xr: [-0.4, 2.3], groups: days3, series: [mnLowCtrl, mnLowUsgo, mnLowLgo, mnLowMw], stars: mnLowStars, yMin: 0, yMax: 1.2e5, yTicks: [0, 4e4, 8e4, 1.2e5], fmt: sci, tickFont: cTick });
dotPlot({ x0: 665, x1: 795, yTop: 767, yBot: 857, xr: [-0.45, 3.4], groups: days4, series: [mnHighCtrl, mnHighUsgo, mnHighLgo, mnHighMw], stars: mnHighStars, yMin: 0, yMax: 1.2e5, yTicks: [0, 4e4, 8e4, 1.2e5], yLabels: false, tickFont: cTick });
dotPlot({ x0: 556, x1: 648, yTop: 875, yBot: 965, xr: [-0.4, 2.3], groups: days3, series: [m2LowCtrl, m2LowUsgo, m2LowLgo, m2LowMw], stars: m2LowStars, yMin: 0, yMax: 1.2e5, yTicks: [0, 4e4, 8e4, 1.2e5], fmt: sci, tickFont: cTick });
dotPlot({ x0: 665, x1: 795, yTop: 875, yBot: 965, xr: [-0.45, 3.4], groups: days4, series: [m2HighCtrl, m2HighUsgo, m2HighLgo, m2HighMw], stars: m2HighStars, yMin: 0, yMax: 1.2e5, yTicks: [0, 4e4, 8e4, 1.2e5], yLabels: false, tickFont: cTick });
</script>
</body></html>
